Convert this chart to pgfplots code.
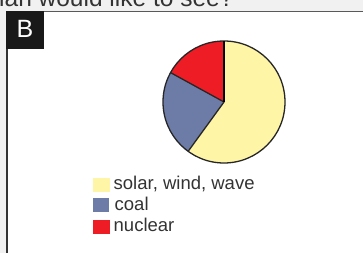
\documentclass[border=0pt]{standalone}
\usepackage{pgfplots}
\pgfplotsset{compat=1.18}
\usepackage{pgfplotstable}
\usepackage{fontspec}
\setmainfont{Liberation Sans}
\definecolor{solar}{HTML}{FFF5A6}
\definecolor{coal}{HTML}{6D7BA7}
\definecolor{nuclear}{HTML}{EE1C25}
\definecolor{txt}{HTML}{333333}
\definecolor{bg}{HTML}{F1F1F1}

\pgfplotstableread{
label value
solar 60
coal 23
nuclear 17
}\piedata

\begin{document}
\begin{tikzpicture}[x=1pt,y=1pt]
\useasboundingbox (0,0) rectangle (363,253);
\clip (0,0) rectangle (363,253);
\pgfplotstablegetelem{0}{value}\of\piedata \let\va\pgfplotsretval
\pgfplotstablegetelem{1}{value}\of\piedata \let\vb\pgfplotsretval
\pgfplotstablegetelem{2}{value}\of\piedata \let\vc\pgfplotsretval
\pgfmathsetmacro\aA{90}
\pgfmathsetmacro\aB{90-3.6*\va}
\pgfmathsetmacro\aC{\aB-3.6*\vb}
\pgfmathsetmacro\aD{\aC-3.6*\vc}
\begin{axis}[
  at={(0,0)}, anchor=origin,
  scale only axis, width=363pt, height=253pt,
  xmin=0, xmax=363, ymin=0, ymax=253,
  hide axis, clip=false,
]
% background and frame
\fill[bg] (axis cs:0,0) rectangle (axis cs:363,253);
\fill[white] (axis cs:7,0) rectangle (axis cs:363,241.5);
\node[anchor=base west, font=\fontsize{24.5}{28}\selectfont, text=txt, inner sep=0pt] at (axis cs:-1,246.3) {ian would like to see?};
\draw[color=black!65, line width=1.6pt] (axis cs:44,241.5) -- (axis cs:363,241.5);
\draw[color=black!80, line width=1.8pt] (axis cs:6.8,253-12) -- (axis cs:6.8,0);
\fill[black!90] (axis cs:6,253-49) rectangle (axis cs:44,253-11);
\node[anchor=base, font=\fontsize{25}{28}\selectfont, text=white, inner sep=0pt] at (axis cs:25,253-37.5) {B};
% pie
\fill[solar] (axis cs:224,151) -- ++(\aA:61) arc[start angle=\aA, end angle=\aB, radius=61] -- cycle;
\fill[coal] (axis cs:224,151) -- ++(\aB:61) arc[start angle=\aB, end angle=\aC, radius=61] -- cycle;
\fill[nuclear] (axis cs:224,151) -- ++(\aC:61) arc[start angle=\aC, end angle=\aD, radius=61] -- cycle;
\draw[black!85, line width=1.3pt] (axis cs:224,151) -- ++(\aB:61);
\draw[black!85, line width=1.3pt] (axis cs:224,151) -- ++(\aC:61);
\draw[black!85, line width=1.3pt] (axis cs:224,151) circle[radius=61];
\draw[black, line width=2.4pt] (axis cs:224,151) -- ++(\aA:61);
% legend
\fill[solar] (axis cs:93,61) rectangle (axis cs:110,75);
\fill[coal] (axis cs:93,41) rectangle (axis cs:109,55);
\fill[nuclear] (axis cs:93,19) rectangle (axis cs:110,33);
\node[anchor=base west, font=\fontsize{18.5}{21}\selectfont, text=txt, inner sep=0pt] at (axis cs:113.5,63) {solar, wind, wave};
\node[anchor=base west, font=\fontsize{18.5}{21}\selectfont, text=txt, inner sep=0pt] at (axis cs:114.5,42.5) {coal};
\node[anchor=base west, font=\fontsize{18.5}{21}\selectfont, text=txt, inner sep=0pt] at (axis cs:113.5,21.5) {nuclear};
\end{axis}
\end{tikzpicture}
\end{document}
